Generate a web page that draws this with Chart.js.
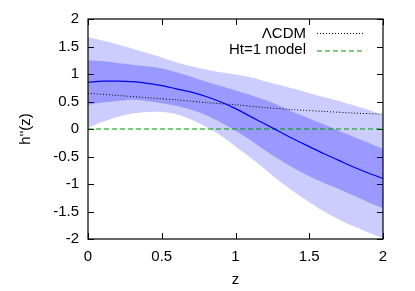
<!DOCTYPE html>
<html>
<head>
<meta charset="utf-8">
<script src="https://cdn.jsdelivr.net/npm/chart.js@4"></script>
<style>
    html, body { margin: 0; padding: 0; background: #fff; }
    #wrap { width: 415px; height: 291px; }
</style>
</head>
<body>
<div id="wrap"><canvas id="chart"></canvas></div>
<script>
// values
const z = [0, 0.1, 0.2, 0.3, 0.4, 0.5, 0.6, 0.7, 0.8, 0.9, 1.0, 1.1, 1.2, 1.3, 1.4, 1.5, 1.6, 1.7, 1.8, 1.9, 2.0];
const hMean = [0.85, 0.87, 0.87, 0.86, 0.83, 0.79, 0.73, 0.67, 0.59, 0.49, 0.37, 0.23, 0.09, -0.05, -0.19, -0.32, -0.45, -0.57, -0.69, -0.80, -0.90];
const sigma1Top = [1.25, 1.23, 1.20, 1.17, 1.14, 1.10, 1.03, 0.95, 0.86, 0.78, 0.70, 0.62, 0.53, 0.42, 0.30, 0.19, 0.08, -0.03, -0.14, -0.25, -0.36];
const sigma1Bottom = [0.44, 0.48, 0.51, 0.53, 0.51, 0.47, 0.42, 0.35, 0.25, 0.12, -0.03, -0.20, -0.39, -0.56, -0.72, -0.86, -0.98, -1.09, -1.21, -1.33, -1.44];
const sigma2Top = [1.67, 1.61, 1.54, 1.46, 1.38, 1.30, 1.21, 1.14, 1.08, 1.03, 0.99, 0.94, 0.87, 0.80, 0.73, 0.65, 0.58, 0.51, 0.43, 0.35, 0.25];
const sigma2Bottom = [0.02, 0.13, 0.22, 0.28, 0.31, 0.31, 0.27, 0.17, 0.04, -0.12, -0.32, -0.52, -0.73, -0.95, -1.15, -1.33, -1.50, -1.64, -1.77, -1.88, -1.98];
const lcdmZ = [0, 0.2, 0.4, 0.6, 0.8, 1.0, 1.2, 1.4, 1.6, 1.8, 2.0];
const lcdm = [0.65, 0.61, 0.57, 0.53, 0.48, 0.44, 0.39, 0.35, 0.32, 0.29, 0.27];
const htZ = [0, 2];
const ht1 = [0, 0];
const xTicks = [0, 0.5, 1, 1.5, 2];
const yTicks = [-2, -1.5, -1, -0.5, 0, 0.5, 1, 1.5, 2];

const FONT = 'Liberation Sans, Arial, Helvetica, sans-serif';
const GREEN = 'rgb(0,150,0)';
const pts = (xs, ys) => xs.map((x, i) => ({ x: x, y: ys[i] }));

// gnuplot-like frame with inward ticks on all four sides
const frame = {
    id: 'frame',
    beforeDatasetsDraw(chart) {
        const { ctx, chartArea: a, scales } = chart;
        const len = 6;
        ctx.save();
        ctx.strokeStyle = '#000';
        ctx.lineWidth = 1;
        ctx.beginPath();
        scales.x.ticks.forEach(t => {
            const px = Math.round(scales.x.getPixelForValue(t.value)) + 0.5;
            ctx.moveTo(px, a.bottom); ctx.lineTo(px, a.bottom - len);
            ctx.moveTo(px, a.top); ctx.lineTo(px, a.top + len);
        });
        scales.y.ticks.forEach(t => {
            const py = Math.round(scales.y.getPixelForValue(t.value)) + 0.5;
            ctx.moveTo(a.left, py); ctx.lineTo(a.left + len, py);
            ctx.moveTo(a.right, py); ctx.lineTo(a.right - len, py);
        });
        ctx.stroke();
        ctx.restore();
    },
    afterDatasetsDraw(chart) {
        const { ctx, chartArea: a } = chart;
        ctx.save();
        ctx.strokeStyle = '#000';
        ctx.lineWidth = 1.2;
        ctx.strokeRect(a.left, a.top, a.right - a.left, a.bottom - a.top);

        // legend, right aligned text with line samples
        ctx.font = '15px ' + FONT;
        ctx.fillStyle = '#000';
        ctx.textAlign = 'right';
        ctx.textBaseline = 'middle';
        const tx = a.right - 77;
        ctx.fillText('\u039BCDM', tx, a.top + 15);
        ctx.fillText('Ht=1 model', tx, a.top + 31);

        ctx.lineWidth = 1;
        ctx.setLineDash([1, 2]);
        ctx.strokeStyle = '#000';
        ctx.beginPath();
        ctx.moveTo(a.right - 66, a.top + 14.5);
        ctx.lineTo(a.right - 20, a.top + 14.5);
        ctx.stroke();

        ctx.lineWidth = 1.2;
        ctx.setLineDash([5, 3]);
        ctx.strokeStyle = GREEN;
        ctx.beginPath();
        ctx.moveTo(a.right - 66, a.top + 32);
        ctx.lineTo(a.right - 19, a.top + 32);
        ctx.stroke();
        ctx.restore();
    },
};

const tickLabel = v => String(v);

new Chart(document.getElementById('chart').getContext('2d'), {
    type: 'line',
    data: {
        datasets: [
            {
                label: 'mean',
                data: pts(z, hMean),
                borderColor: 'rgb(0,0,235)',
                borderWidth: 1.2,
                tension: 0.3,
                fill: false,
            },
            {
                label: '\u039BCDM',
                data: pts(lcdmZ, lcdm),
                borderColor: '#000',
                borderWidth: 1,
                borderDash: [1, 2],
                tension: 0.3,
                fill: false,
            },
            {
                label: 'Ht=1 model',
                data: pts(htZ, ht1),
                borderColor: GREEN,
                borderWidth: 1,
                borderDash: [5, 3],
                fill: false,
            },
            {
                label: '1 sigma top',
                data: pts(z, sigma1Top),
                borderWidth: 0,
                borderColor: 'transparent',
                backgroundColor: 'rgba(0,0,255,0.25)',
                tension: 0.3,
                fill: '+1',
            },
            {
                label: '1 sigma bottom',
                data: pts(z, sigma1Bottom),
                borderWidth: 0,
                borderColor: 'transparent',
                tension: 0.3,
                fill: false,
            },
            {
                label: '2 sigma top',
                data: pts(z, sigma2Top),
                borderWidth: 0,
                borderColor: 'transparent',
                backgroundColor: 'rgba(0,0,255,0.2)',
                tension: 0.3,
                fill: '+1',
            },
            {
                label: '2 sigma bottom',
                data: pts(z, sigma2Bottom),
                borderWidth: 0,
                borderColor: 'transparent',
                tension: 0.3,
                fill: false,
            },
        ],
    },
    options: {
        responsive: true,
        maintainAspectRatio: false,
        animation: false,
        elements: { point: { radius: 0 } },
        layout: { padding: { top: 19, right: 32, left: 0, bottom: 0 } },
        plugins: {
            legend: { display: false },
            tooltip: { enabled: false },
        },
        scales: {
            x: {
                type: 'linear',
                min: 0,
                max: 2,
                afterBuildTicks: s => { s.ticks = xTicks.map(v => ({ value: v })); },
                afterFit: s => { s.height = 52; },
                border: { display: false },
                grid: { display: false, drawTicks: false },
                ticks: {
                    color: '#000',
                    padding: 9,
                    font: { family: FONT, size: 15 },
                    maxRotation: 0,
                    callback: tickLabel,
                },
                title: {
                    display: true,
                    text: 'z',
                    color: '#000',
                    font: { family: FONT, size: 15 },
                    padding: { top: 0, bottom: 2 },
                },
            },
            y: {
                type: 'linear',
                min: -2,
                max: 2,
                afterBuildTicks: s => { s.ticks = yTicks.map(v => ({ value: v })); },
                afterFit: s => { s.width = 88; },
                border: { display: false },
                grid: { display: false, drawTicks: false },
                ticks: {
                    color: '#000',
                    padding: 9,
                    font: { family: FONT, size: 15 },
                    callback: tickLabel,
                },
                title: {
                    display: true,
                    text: "h''(z)",
                    color: '#000',
                    font: { family: FONT, size: 15 },
                    padding: { top: 17, bottom: 0 },
                },
            },
        },
    },
    plugins: [frame],
});
</script>
</body>
</html>
